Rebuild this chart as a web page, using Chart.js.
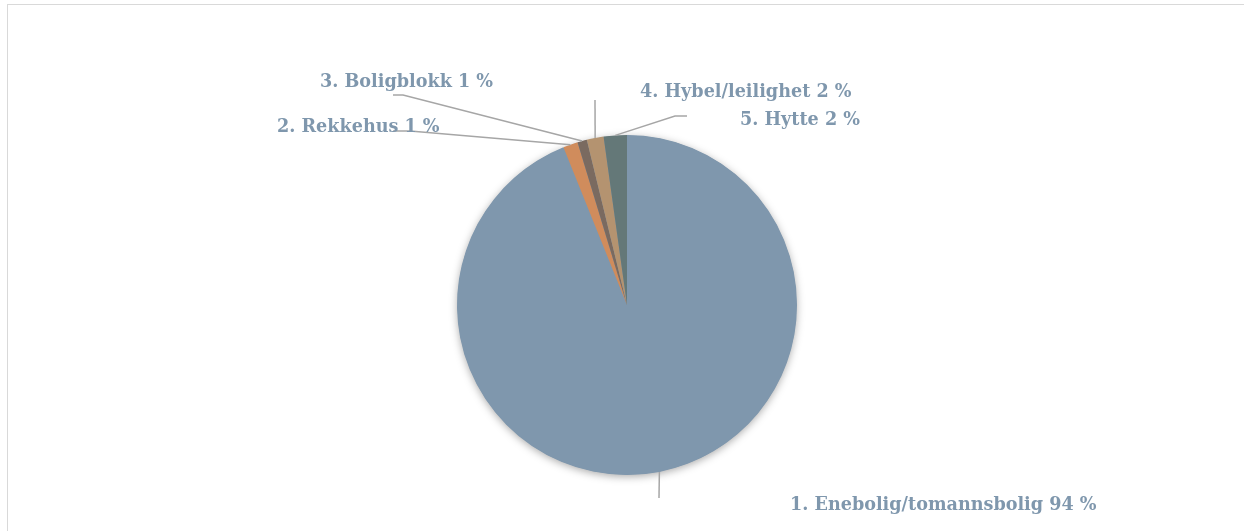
<!DOCTYPE html>
<html>
<head>
<meta charset="utf-8">
<script src="https://cdn.jsdelivr.net/npm/chart.js@4.4.1/dist/chart.umd.min.js"></script>
<style>
  html, body { margin: 0; padding: 0; background: #fff; overflow: hidden; }
  #wrap { position: relative; width: 1244px; height: 531px; overflow: hidden; }
  #frame { position: absolute; left: 7px; top: 4px; width: 1300px; height: 600px; border: 1px solid #d9d9d9; box-sizing: border-box; }
  canvas { position: absolute; left: 0; top: 0; }
</style>
</head>
<body>
<div id="wrap">
  <div id="frame"></div>
  <canvas id="chart" width="1244" height="531"></canvas>
</div>
<script>
const categories = ['1. Enebolig/tomannsbolig', '2. Rekkehus', '3. Boligblokk', '4. Hybel/leilighet', '5. Hytte'];
const shares = [93.9, 1.4, 0.9, 1.6, 2.2];
const shownPercent = [94, 1, 1, 2, 2];
const colors = ['#7f97ad', '#d08c5c', '#7a6a60', '#b49370', '#647878'];

// leader line bends and label spots (px) for each slice
const labelSpots = [
  { bends: [[659, 498]], text: [790, 505] },
  { bends: [[410, 131], [393, 131]], text: [277, 127] },
  { bends: [[403, 95], [393, 95]], text: [320, 82] },
  { bends: [[595, 100]], text: [640, 92] },
  { bends: [[675, 116], [687, 116]], text: [740, 120] }
];

const leaderLabels = {
  id: 'leaderLabels',
  afterDatasetsDraw(chart) {
    const ctx = chart.ctx;
    const arcs = chart.getDatasetMeta(0).data;
    ctx.save();
    arcs.forEach((arc, i) => {
      const mid = (arc.startAngle + arc.endAngle) / 2;
      const x0 = arc.x + Math.cos(mid) * arc.outerRadius;
      const y0 = arc.y + Math.sin(mid) * arc.outerRadius;
      const spot = labelSpots[i];
      ctx.strokeStyle = '#a6a6a6';
      ctx.lineWidth = 1.5;
      ctx.beginPath();
      ctx.moveTo(x0, y0);
      spot.bends.forEach(p => ctx.lineTo(p[0], p[1]));
      ctx.stroke();
      ctx.fillStyle = '#7f97ad';
      ctx.font = 'bold 17.6px "DejaVu Serif"';
      ctx.textBaseline = 'middle';
      ctx.textAlign = 'left';
      ctx.fillText(categories[i] + ' ' + shownPercent[i] + ' %', spot.text[0], spot.text[1]);
    });
    ctx.restore();
  }
};

// one soft shadow under the whole pie
const pieShadow = {
  id: 'pieShadow',
  beforeDatasetsDraw(chart) {
    const arc = chart.getDatasetMeta(0).data[0];
    if (!arc) return;
    const ctx = chart.ctx;
    ctx.save();
    ctx.shadowColor = 'rgba(0,0,0,0.35)';
    ctx.shadowBlur = 9;
    ctx.shadowOffsetY = 2;
    ctx.fillStyle = '#7f97ad';
    ctx.beginPath();
    ctx.arc(arc.x, arc.y, arc.outerRadius - 0.5, 0, Math.PI * 2);
    ctx.fill();
    ctx.restore();
  }
};

new Chart(document.getElementById('chart').getContext('2d'), {
  type: 'pie',
  data: {
    labels: categories,
    datasets: [{
      data: shares,
      backgroundColor: colors,
      borderWidth: 0
    }]
  },
  options: {
    responsive: false,
    animation: false,
    layout: { padding: { top: 135, bottom: 56, left: 10, right: 0 } },
    plugins: {
      legend: { display: false },
      tooltip: { enabled: false }
    }
  },
  plugins: [pieShadow, leaderLabels]
});
</script>
</body>
</html>
